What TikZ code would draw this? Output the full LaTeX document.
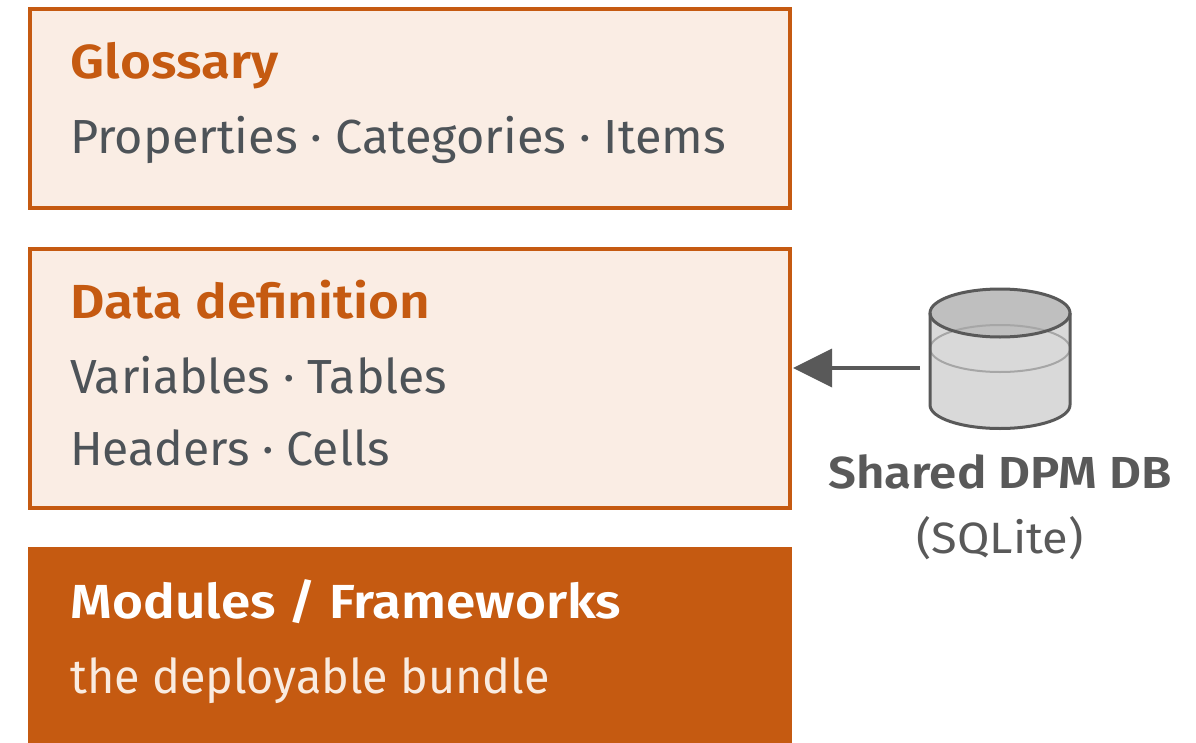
\documentclass[tikz,border=0pt]{standalone}
\usepackage{fontspec}
\setmainfont{Fira Sans}
\newfontfamily\headf[FakeStretch=1.11]{Fira Sans SemiBold}
\newfontfamily\capf[FakeStretch=1.1]{Fira Sans SemiBold}
\newfontfamily\bodya[FakeStretch=1.017]{Fira Sans}
\newfontfamily\bodyb[FakeStretch=1.005]{Fira Sans}
\newfontfamily\bodyc[FakeStretch=0.977]{Fira Sans}
\newfontfamily\subf[FakeStretch=1.07]{Fira Sans}
\definecolor{accent}{HTML}{C55A11}
\definecolor{paper}{HTML}{FAEDE4}
\definecolor{ink}{HTML}{4D5358}
\definecolor{dbline}{HTML}{595959}
\definecolor{dbbody}{HTML}{D9D9D9}
\definecolor{dbtop}{HTML}{BFBFBF}
\definecolor{dbmid}{HTML}{A6A6A6}
\definecolor{pale}{HTML}{F9EBE0}
\tikzset{
  x=1bp,y=-1bp,
  boxline/.style={draw=accent,line width=4bp,fill=paper,minimum width=760bp,inner sep=0pt},
  solidbox/.style={fill=accent,minimum width=764bp,inner sep=0pt},
  head/.style={anchor=base west,inner sep=0pt,text=accent,font=\fontsize{48}{48}\headf},
  body/.style={anchor=base west,inner sep=0pt,text=ink,font=\fontsize{48}{48}\bodyb},
  dbcap/.style={anchor=base,inner sep=0pt,text=dbline},
}
\begin{document}
\begin{tikzpicture}
\useasboundingbox (0,0) rectangle (1196,743);
\node[boxline,minimum height=199bp] (glossary) at (410,108.5) {};
\node[boxline,minimum height=259bp] (datadef) at (410,378.5) {};
\node[solidbox,minimum height=196bp] (modules) at (410,645) {};
\node[head] (t1) at (70.5,79) {Glossary};
\node[body,font=\fontsize{48}{48}\bodya] (t2) at (70,153) {Properties · Categories · Items};
\node[head] (t3) at (70.5,318) {Data definition};
\node[body] (t4) at (70,393) {Variables · Tables};
\node[body] (t5) at (70,465) {Headers · Cells};
\node[head,text=white] (t6) at (70.5,618) {Modules / Frameworks};
\node[body,text=pale,font=\fontsize{48}{48}\bodyc] (t7) at (70,693) {the deployable bundle};
% cylinder
\fill[dbbody] (930,313) -- (930,405) arc[start angle=180,end angle=0,x radius=70,y radius=23.5] -- (1070,313) -- cycle;
\fill[dbtop] (1000,313) ellipse[x radius=70,y radius=24];
\draw[dbmid,line width=2bp] (1000,348.5) ellipse[x radius=70,y radius=23.5];
\draw[dbline,line width=3bp] (1000,313) ellipse[x radius=70,y radius=24];
\draw[dbline,line width=3bp] (930,313) -- (930,405) arc[start angle=180,end angle=0,x radius=70,y radius=23.5] -- (1070,313);
\node[inner sep=0pt,minimum width=160bp,minimum height=140bp] (db) at (1000,359) {};
\coordinate (dbport) at (920,368);
\coordinate (tip) at (793,368);
\fill[dbline] (tip) -- (832,348.5) -- (832,387.5) -- cycle;
\draw[dbline,line width=4bp] (dbport) -- (830,368);
\node[dbcap,font=\fontsize{45}{45}\capf] (l1) at (1000,488) {Shared DPM DB};
\node[dbcap,font=\fontsize{44}{44}\subf] (l2) at (1000,553) {(SQLite)};
\end{tikzpicture}
\end{document}
